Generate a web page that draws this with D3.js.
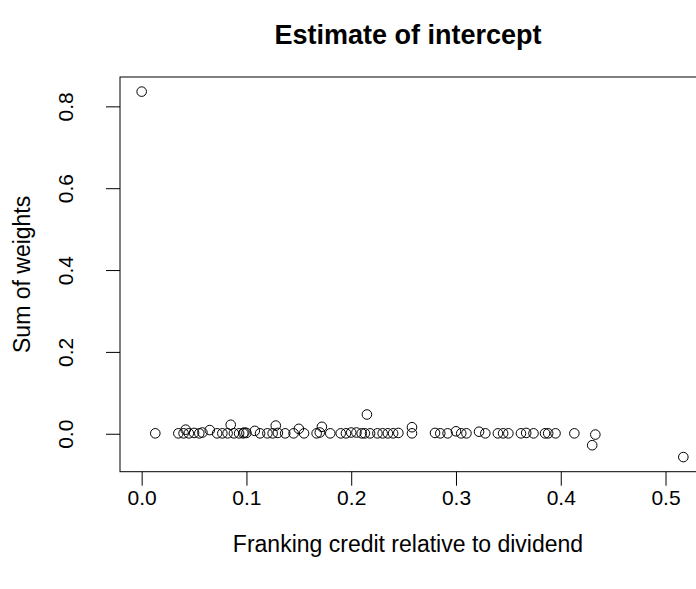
<!DOCTYPE html>
<html>
<head>
<meta charset="utf-8">
<script src="https://cdn.jsdelivr.net/npm/d3@7"></script>
<style>
body { margin: 0; background: #fff; }
svg { display: block; font-family: "Liberation Sans", Arial, sans-serif; }
</style>
</head>
<body>
<svg id="SvgContainer"></svg>
<script>
var width = 696;
var height = 589;

// franking credit relative to dividend
var franking = [0.000, 0.013, 0.035, 0.040, 0.042, 0.045, 0.050, 0.055, 0.058, 0.065,
    0.072, 0.077, 0.082, 0.085, 0.088, 0.093, 0.097, 0.098, 0.100, 0.108,
    0.113, 0.120, 0.125, 0.128, 0.130, 0.137, 0.145, 0.150, 0.155, 0.167,
    0.170, 0.172, 0.180, 0.190, 0.195, 0.200, 0.205, 0.210, 0.213, 0.215,
    0.218, 0.225, 0.230, 0.235, 0.240, 0.245, 0.258, 0.258, 0.280, 0.285,
    0.292, 0.300, 0.305, 0.310, 0.322, 0.328, 0.340, 0.345, 0.350, 0.362,
    0.367, 0.374, 0.385, 0.388, 0.395, 0.413, 0.430, 0.433, 0.517];
// sum of weights
var weights = [0.836, 0.001, 0.001, 0.001, 0.010, 0.001, 0.002, 0.001, 0.003, 0.009,
    0.001, 0.001, 0.001, 0.022, 0.001, 0.001, 0.001, 0.003, 0.002, 0.007,
    0.001, 0.001, 0.001, 0.020, 0.002, 0.001, 0.001, 0.012, 0.001, 0.001,
    0.003, 0.017, 0.001, 0.001, 0.001, 0.003, 0.003, 0.001, 0.001, 0.047,
    0.001, 0.001, 0.001, 0.001, 0.001, 0.002, 0.016, 0.001, 0.002, 0.001,
    0.001, 0.006, 0.001, 0.001, 0.005, 0.001, 0.001, 0.001, 0.001, 0.001,
    0.002, 0.001, 0.001, 0.001, 0.001, 0.001, -0.028, -0.002, -0.057];

var xTicks = [0.0, 0.1, 0.2, 0.3, 0.4, 0.5];
var yTicks = [0.0, 0.2, 0.4, 0.6, 0.8];

var plotLeft = 120;
var plotTop = 77;
var plotBottom = 471.7;
var plotRight = 705;
var textCenter = 408;

var tickSize = 21;
var labelSize = 23;

var svgContainer = d3.select("svg")
    .attr("width", width)
    .attr("height", height);

// R style 4% padding on both sides
var xMin = d3.min(franking), xMax = d3.max(franking);
var xPad = (xMax - xMin) * 0.04;
var yMin = d3.min(weights), yMax = d3.max(weights);
var yPad = (yMax - yMin) * 0.04;

var xScale = d3.scaleLinear()
    .domain([xMin - xPad, xMax + xPad])
    .range([plotLeft, plotRight]);

var yScale = d3.scaleLinear()
    .domain([yMin - yPad, yMax + yPad])
    .range([plotBottom, plotTop]);

svgContainer.append("rect")
    .attr("x", plotLeft)
    .attr("y", plotTop)
    .attr("width", plotRight - plotLeft)
    .attr("height", plotBottom - plotTop)
    .attr("fill", "none")
    .attr("stroke", "#000")
    .attr("stroke-width", 1);

var xAxis = d3.axisBottom(xScale)
    .tickValues(xTicks)
    .tickSize(14)
    .tickPadding(4)
    .tickFormat(d3.format(".1f"));

var xAxisGroup = svgContainer.append("g")
    .attr("transform", "translate(0," + plotBottom + ")")
    .call(xAxis);
xAxisGroup.select(".domain").remove();
xAxisGroup.selectAll("line").attr("stroke", "#000");
xAxisGroup.selectAll("text")
    .attr("font-size", tickSize)
    .attr("font-family", "Liberation Sans, Arial, sans-serif")
    .attr("fill", "#000");

var yAxis = d3.axisLeft(yScale)
    .tickValues(yTicks)
    .tickSize(14)
    .tickFormat(d3.format(".1f"));

var yAxisGroup = svgContainer.append("g")
    .attr("transform", "translate(" + plotLeft + ",0)")
    .call(yAxis);
yAxisGroup.select(".domain").remove();
yAxisGroup.selectAll("line").attr("stroke", "#000");
yAxisGroup.selectAll("text")
    .attr("font-size", tickSize)
    .attr("font-family", "Liberation Sans, Arial, sans-serif")
    .attr("fill", "#000")
    .attr("text-anchor", "middle")
    .attr("x", null)
    .attr("transform", "translate(-54,0) rotate(-90)")
    .attr("dy", "0.35em");

svgContainer.selectAll(".point")
    .data(franking)
    .enter()
    .append("circle")
    .attr("class", "point")
    .attr("cx", function (d, i) {
        return xScale(d);
    })
    .attr("cy", function (d, i) {
        return yScale(weights[i]);
    })
    .attr("r", 4.8)
    .attr("fill", "none")
    .attr("stroke", "#000")
    .attr("stroke-width", 1);

svgContainer.append("text")
    .text("Estimate of intercept")
    .attr("x", textCenter)
    .attr("y", 44)
    .attr("text-anchor", "middle")
    .attr("font-size", 27)
    .attr("font-weight", "bold");

svgContainer.append("text")
    .text("Franking credit relative to dividend")
    .attr("x", textCenter)
    .attr("y", 552)
    .attr("text-anchor", "middle")
    .attr("font-size", labelSize);

svgContainer.append("text")
    .text("Sum of weights")
    .attr("transform", "translate(30," + (plotTop + plotBottom) / 2 + ") rotate(-90)")
    .attr("text-anchor", "middle")
    .attr("font-size", labelSize);
</script>
</body>
</html>
